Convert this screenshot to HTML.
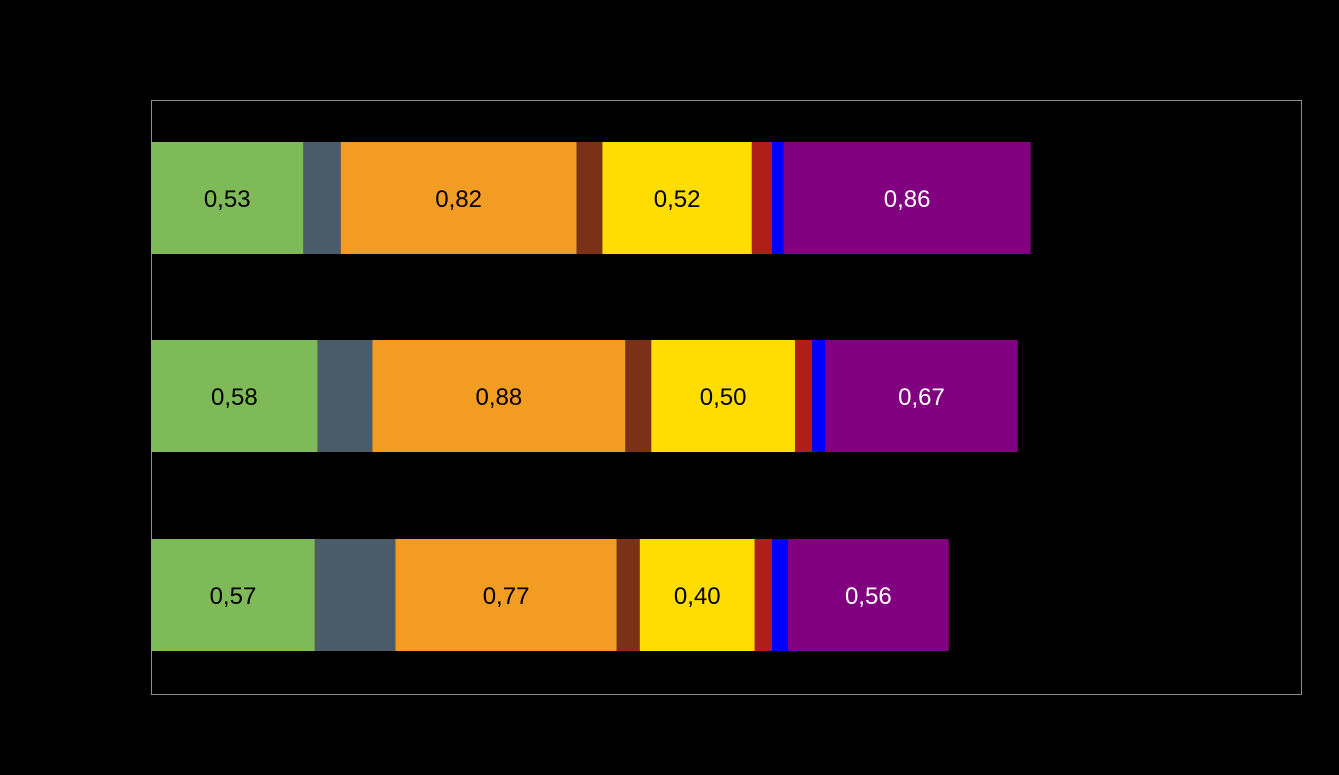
<!DOCTYPE html>
<html><head><meta charset="utf-8"><style>
html,body{margin:0;padding:0;background:#000;width:1339px;height:775px;overflow:hidden}
svg text{font-family:"Liberation Sans",sans-serif;font-size:24px}
</style></head><body>
<svg id="chart" width="1339" height="775" xmlns="http://www.w3.org/2000/svg">
<rect x="151.5" y="100.5" width="1150" height="594" fill="none" stroke="#8c8c8c" stroke-width="1"/>
<g id="bars"></g>
</svg>
<script>
const categories = ["row-1","row-2","row-3"];
const seriesNames = ["green","gray","orange","brown","yellow","red","blue","purple"];
const seriesGreen  = [0.53,0.58,0.57];
const seriesGray   = [0.13,0.19,0.28];
const seriesOrange = [0.82,0.88,0.77];
const seriesBrown  = [0.09,0.09,0.08];
const seriesYellow = [0.52,0.50,0.40];
const seriesRed    = [0.07,0.06,0.06];
const seriesBlue   = [0.04,0.045,0.055];
const seriesPurple = [0.86,0.67,0.56];
const labelled = [true,false,true,false,true,false,false,true];
const allSeries = [seriesGreen,seriesGray,seriesOrange,seriesBrown,seriesYellow,seriesRed,seriesBlue,seriesPurple];
const colors = ["#7fba58","#4a5c6a","#f39c24","#7b3118","#ffdd00","#b01f17","#0000ff","#800080"];
const textColors = ["#000","#000","#000","#000","#000","#000","#000","#fff"];
const xMax = 4;
const x0 = 151, plotW = 1150;
const xScale = v => x0 + v / xMax * plotW;
const rowTop = [142, 340, 539];
const barH = 112;
const g = document.getElementById('bars');
const NS = "http://www.w3.org/2000/svg";
categories.forEach((c, i) => {
  let acc = 0;
  allSeries.forEach((s, k) => {
    const v = s[i];
    const xa = xScale(acc), xb = xScale(acc + v);
    const r = document.createElementNS(NS, 'rect');
    
    
    r.setAttribute('x', xa); r.setAttribute('y', rowTop[i]);
    r.setAttribute('width', xb - xa); r.setAttribute('height', barH);
    r.setAttribute('fill', colors[k]);
    g.appendChild(r);
    if (labelled[k]) {
      const t = document.createElementNS(NS, 'text');
      
      
      t.setAttribute('x', (xa + xb) / 2); t.setAttribute('y', rowTop[i] + barH / 2 + 9);
      t.setAttribute('text-anchor', 'middle'); t.setAttribute('fill', textColors[k]);
      t.textContent = v.toFixed(2).replace('.', ',');
      g.appendChild(t);
    }
    acc += v;
  });
});
</script>
</body></html>
